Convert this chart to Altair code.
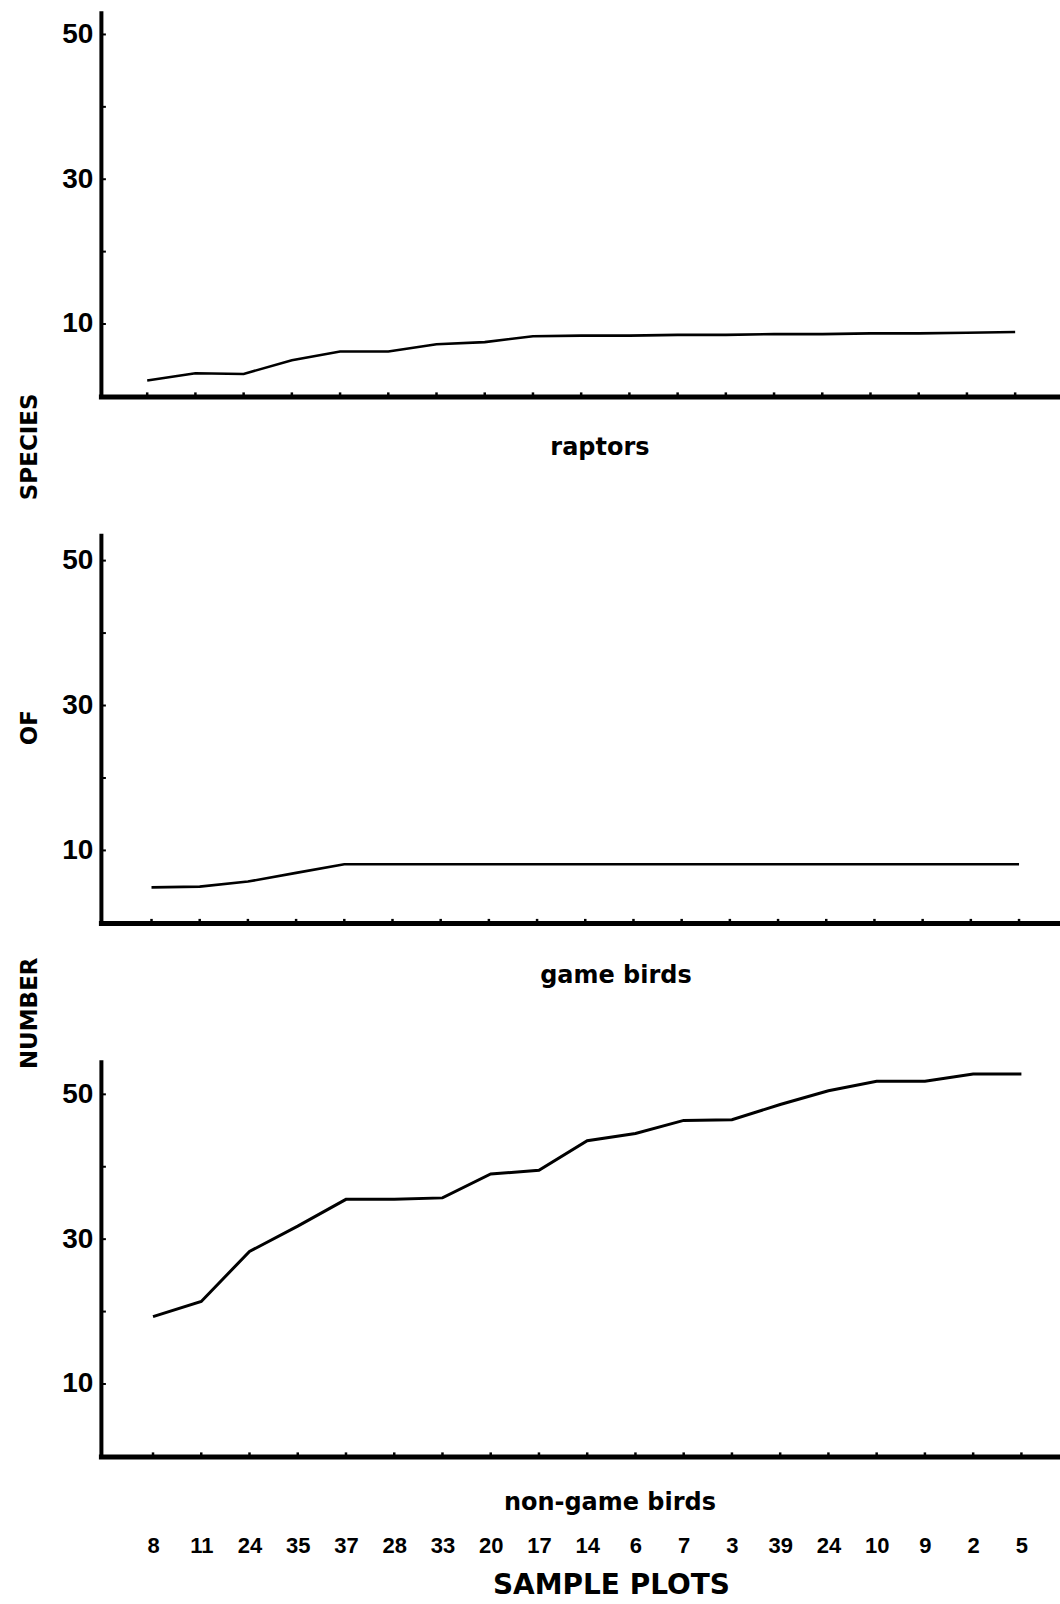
import json
import altair as alt
import pandas as pd

# ---- data ----
plots = ["8", "11", "24", "35", "37", "28", "33", "20", "17", "14",
         "6", "7", "3", "39", "24", "10", "9", "2", "5"]
raptors = [2.2, 3.2, 3.1, 5.0, 6.2, 6.2, 7.2, 7.5, 8.3, 8.4,
           8.4, 8.5, 8.5, 8.6, 8.6, 8.7, 8.7, 8.8, 8.9]
game_birds = [4.9, 5.0, 5.7, 6.9, 8.1, 8.1, 8.1, 8.1, 8.1, 8.1,
              8.1, 8.1, 8.1, 8.1, 8.1, 8.1, 8.1, 8.1, 8.1]
non_game = [19.3, 21.4, 28.3, 31.8, 35.5, 35.5, 35.7, 39.0, 39.5, 43.6,
            44.6, 46.4, 46.5, 48.6, 50.5, 51.8, 51.8, 52.8, 52.8]
y_ticks = [10, 20, 30, 40, 50]

LBL_FONT = "Liberation Sans"
TTL_FONT = "DejaVu Sans"
W = 960


def panel(values, height, ymax, xmin, xmax, ytitle, ytitle_y,
          xtitle, xtitle_x, xtitle_y, show_x_labels, stroke_w):
    df = pd.DataFrame({"idx": list(range(len(plots))), "plot": plots, "n": values})
    x_axis = alt.Axis(
        values=list(range(len(plots))),
        labels=show_x_labels,
        labelExpr=json.dumps(plots) + "[datum.value]",
        labelFont=LBL_FONT, labelFontSize=22, labelFontWeight="bold",
        labelColor="black", labelPadding=79, labelBaseline="top",
        ticks=False, tickSize=0, grid=False,
        domainColor="black", domainWidth=5, domainCap="square",
        title=xtitle, titleFont=TTL_FONT, titleFontSize=24,
        titleFontWeight="bold", titleColor="black",
        titleX=xtitle_x, titleY=xtitle_y, titleAlign="center",
        titleBaseline="alphabetic", titleAngle=0,
    )
    y_axis = alt.Axis(
        values=y_ticks,
        labelExpr="datum.value % 20 == 10 ? datum.label : ''",
        labelFont=LBL_FONT, labelFontSize=28, labelFontWeight="bold",
        labelColor="black", labelPadding=8,
        ticks=False, tickSize=0, grid=False,
        domainColor="black", domainWidth=4, domainCap="square",
        title=ytitle, titleFont=TTL_FONT, titleFontSize=23,
        titleFontWeight="bold", titleColor="black",
        titleX=-71, titleY=ytitle_y, titleAlign="center",
        titleBaseline="middle", titleAngle=270,
    )
    xs = alt.Scale(domain=[xmin, xmax], nice=False, zero=False)
    ys = alt.Scale(domain=[0, ymax], nice=False)

    line = alt.Chart(df).mark_line(color="black", strokeWidth=stroke_w).encode(
        x=alt.X("idx:Q", scale=xs, axis=x_axis),
        y=alt.Y("n:Q", scale=ys, axis=y_axis),
    )
    ytk = alt.Chart(pd.DataFrame({"n": y_ticks})).mark_rule(
        color="black", strokeWidth=2
    ).encode(
        y=alt.Y("n:Q", scale=ys, axis=y_axis),
        x=alt.value(0), x2=alt.value(5),
    )
    xtk = alt.Chart(pd.DataFrame({"idx": list(range(len(plots)))})).mark_rule(
        color="black", strokeWidth=2.5
    ).encode(
        x=alt.X("idx:Q", scale=xs, axis=x_axis),
        y=alt.value(height), y2=alt.value(height - 4),
    )
    return alt.layer(line, ytk, xtk).properties(width=W, height=height)


p1 = panel(raptors, 384, 53.0, -0.96, 18.93, "SPECIES", 434,
           "raptors", 499, 58, False, 2.6)
p2 = panel(game_birds, 388, 53.5, -1.05, 18.85, "OF", 192,
           "game birds", 515, 60, False, 2.6)
p3 = panel(non_game, 395, 54.5, -1.08, 18.8, "NUMBER", -49,
           "non-game birds", 509, 53, True, 3).properties(
    title=alt.TitleParams(
        "SAMPLE PLOTS", orient="bottom", anchor="middle", frame="group",
        offset=16, dx=31, font=TTL_FONT, fontSize=28, fontWeight="bold",
        color="black", baseline="top",
    )
)

chart = alt.vconcat(p1, p2, p3, spacing=139, bounds="flush").properties(
    padding={"left": 18, "top": 12, "right": 0, "bottom": 0},
    background="white",
).configure_view(stroke=None)

chart.save("out.html", embed_options={"renderer": "svg", "actions": False})
